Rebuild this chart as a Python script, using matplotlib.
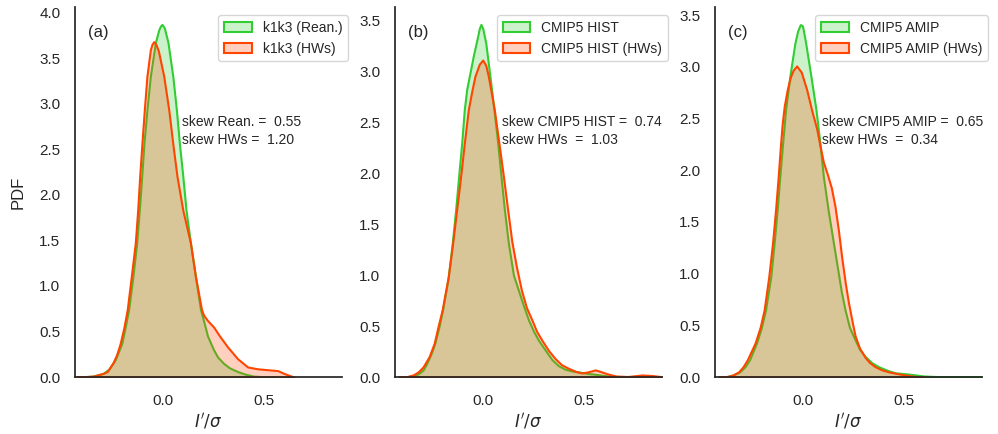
import matplotlib
matplotlib.use("Agg")
import matplotlib.pyplot as plt
import seaborn as sns

# PDF curves (x = I'/sigma, y = density)
a_rean_x = [-0.43, -0.40, -0.35, -0.30, -0.27, -0.24, -0.225, -0.207, -0.19, -0.173, -0.152, -0.133,
            -0.12, -0.108, -0.097, -0.082, -0.065, -0.04, -0.023, -0.015, -0.007, 0.005, 0.023,
            0.047, 0.065, 0.08, 0.097, 0.113, 0.135, 0.16, 0.185, 0.20, 0.22, 0.25, 0.27, 0.30,
            0.33, 0.37, 0.41, 0.45, 0.50, 0.56]
a_rean_y = [0.0, 0.003, 0.01, 0.04, 0.09, 0.19, 0.27, 0.37, 0.55, 0.74, 1.10, 1.47,
            1.83, 2.20, 2.56, 2.93, 3.30, 3.67, 3.81, 3.85, 3.87, 3.83, 3.67,
            3.30, 2.93, 2.56, 2.20, 1.83, 1.47, 1.10, 0.74, 0.62, 0.45, 0.30, 0.22, 0.15,
            0.10, 0.06, 0.03, 0.01, 0.003, 0.0]
a_hw_x = [-0.43, -0.40, -0.35, -0.30, -0.28, -0.25, -0.232, -0.215, -0.197, -0.18, -0.16, -0.14,
          -0.128, -0.118, -0.107, -0.095, -0.082, -0.065, -0.057, -0.048, -0.037, -0.025, 0.002,
          0.027, 0.047, 0.068, 0.097, 0.135, 0.16, 0.19, 0.20, 0.22, 0.25, 0.28, 0.32, 0.37,
          0.42, 0.47, 0.52, 0.57, 0.60, 0.65]
a_hw_y = [0.0, 0.003, 0.01, 0.04, 0.06, 0.16, 0.25, 0.37, 0.54, 0.74, 1.10, 1.47,
          1.83, 2.20, 2.56, 2.93, 3.30, 3.59, 3.65, 3.68, 3.65, 3.58, 3.30,
          2.93, 2.56, 2.20, 1.83, 1.47, 1.10, 0.74, 0.68, 0.62, 0.55, 0.45, 0.33, 0.20,
          0.11, 0.09, 0.08, 0.07, 0.04, 0.0]

b_hist_x = [-0.42, -0.38, -0.35, -0.325, -0.30, -0.283, -0.26, -0.242, -0.22, -0.203, -0.175,
            -0.155, -0.138, -0.123, -0.108, -0.095, -0.083, -0.07, -0.05, -0.033, -0.02, -0.012,
            -0.003, 0.012, 0.033, 0.053, 0.072, 0.088, 0.105, 0.125, 0.15, 0.17, 0.20, 0.225,
            0.25, 0.275, 0.31, 0.342, 0.375, 0.408, 0.44, 0.475, 0.52, 0.558, 0.62, 0.70]
b_hist_y = [0.0, 0.003, 0.01, 0.03, 0.07, 0.13, 0.23, 0.33, 0.50, 0.66, 0.98,
            1.31, 1.64, 1.97, 2.29, 2.62, 2.82, 2.95, 3.15, 3.30, 3.42, 3.46,
            3.42, 3.28, 2.95, 2.62, 2.29, 1.97, 1.64, 1.31, 1.00, 0.88, 0.70, 0.56,
            0.45, 0.36, 0.26, 0.17, 0.11, 0.076, 0.06, 0.05, 0.035, 0.027, 0.01, 0.0]
b_hw_x = [-0.42, -0.38, -0.35, -0.325, -0.30, -0.27, -0.245, -0.225, -0.205, -0.175, -0.153,
          -0.133, -0.113, -0.095, -0.075, -0.058, -0.042, -0.02, -0.003, 0.012, 0.025, 0.055,
          0.078, 0.10, 0.12, 0.142, 0.165, 0.19, 0.215, 0.242, 0.265, 0.292, 0.325, 0.358,
          0.39, 0.425, 0.46, 0.49, 0.52, 0.558, 0.59, 0.62, 0.66, 0.72, 0.79, 0.84, 0.89]
b_hw_y = [0.0, 0.005, 0.02, 0.05, 0.10, 0.20, 0.33, 0.50, 0.66, 0.98, 1.31,
          1.64, 1.97, 2.29, 2.62, 2.80, 2.95, 3.07, 3.11, 3.06, 2.95, 2.62,
          2.29, 1.97, 1.66, 1.33, 1.08, 0.85, 0.68, 0.56, 0.45, 0.36, 0.26, 0.18,
          0.12, 0.085, 0.055, 0.04, 0.05, 0.07, 0.05, 0.03, 0.01, 0.005, 0.02, 0.015, 0.003]

c_amip_x = [-0.42, -0.38, -0.35, -0.317, -0.29, -0.267, -0.233, -0.21, -0.188, -0.162, -0.145,
            -0.13, -0.117, -0.103, -0.088, -0.067, -0.042, -0.028, -0.015, -0.005, 0.0, 0.012,
            0.038, 0.063, 0.083, 0.10, 0.125, 0.15, 0.175, 0.19, 0.208, 0.23, 0.258, 0.28,
            0.308, 0.34, 0.375, 0.40, 0.425, 0.46, 0.49, 0.52, 0.56, 0.60, 0.66, 0.75, 0.89]
c_amip_y = [0.0, 0.005, 0.02, 0.05, 0.10, 0.17, 0.33, 0.47, 0.65, 0.97, 1.30,
            1.62, 1.94, 2.26, 2.59, 2.91, 3.23, 3.35, 3.41, 3.40, 3.36, 3.23,
            2.91, 2.59, 2.26, 1.94, 1.60, 1.30, 1.00, 0.82, 0.65, 0.48, 0.36, 0.27,
            0.20, 0.14, 0.10, 0.08, 0.06, 0.04, 0.035, 0.03, 0.02, 0.01, 0.005, 0.001, 0.0]
c_hw_x = [-0.42, -0.38, -0.35, -0.322, -0.30, -0.278, -0.24, -0.215, -0.195, -0.172, -0.153,
          -0.138, -0.125, -0.113, -0.105, -0.095, -0.08, -0.065, -0.05, -0.033, -0.01, 0.017,
          0.042, 0.067, 0.083, 0.10, 0.12, 0.14, 0.158, 0.175, 0.192, 0.21, 0.225, 0.245,
          0.258, 0.28, 0.308, 0.33, 0.358, 0.39, 0.425, 0.49, 0.56, 0.60]
c_hw_y = [0.0, 0.005, 0.02, 0.05, 0.10, 0.17, 0.33, 0.48, 0.65, 0.97, 1.30,
          1.62, 1.94, 2.26, 2.45, 2.62, 2.78, 2.90, 2.97, 3.01, 2.95, 2.78,
          2.58, 2.40, 2.24, 2.08, 1.96, 1.83, 1.65, 1.42, 1.15, 0.90, 0.72, 0.52,
          0.40, 0.28, 0.19, 0.14, 0.10, 0.07, 0.05, 0.025, 0.005, 0.0]

panels = ["(a)", "(b)", "(c)"]
labels_main = ["k1k3 (Rean.)", "CMIP5 HIST", "CMIP5 AMIP"]
labels_hw = ["k1k3 (HWs)", "CMIP5 HIST (HWs)", "CMIP5 AMIP (HWs)"]
skew_main = ["skew Rean. =  0.55", "skew CMIP5 HIST =  0.74", "skew CMIP5 AMIP =  0.65"]
skew_hw = ["skew HWs =  1.20", "skew HWs  =  1.03", "skew HWs  =  0.34"]
ytop = [4.06, 3.63, 3.58]
yticks = [[0, 0.5, 1, 1.5, 2, 2.5, 3, 3.5, 4], [0, 0.5, 1, 1.5, 2, 2.5, 3, 3.5],
          [0, 0.5, 1, 1.5, 2, 2.5, 3, 3.5]]

curves = [((a_rean_x, a_rean_y), (a_hw_x, a_hw_y)),
          ((b_hist_x, b_hist_y), (b_hw_x, b_hw_y)),
          ((c_amip_x, c_amip_y), (c_hw_x, c_hw_y))]

sns.set_style("white")
sns.set_context("notebook")
plt.rcParams['font.family'] = ['Liberation Sans', 'DejaVu Sans']

fig = plt.figure(figsize=(9.98, 4.34), dpi=100)
lefts = [0.0752, 0.3958, 0.7164]
xpad = plt.rcParams['xtick.major.pad']
ypad = plt.rcParams['ytick.major.pad']

for i in range(3):
    ax = fig.add_axes([lefts[i], 0.1313, 0.2675, 0.8525])
    (mx, my), (hx, hy) = curves[i]
    ax.fill_between(mx, my, 0, facecolor=(50/255, 205/255, 50/255, 0.25),
                    edgecolor='limegreen', linewidth=1.5, label=labels_main[i])
    ax.fill_between(hx, hy, 0, facecolor=(1.0, 69/255, 0, 0.25),
                    edgecolor='orangered', linewidth=1.5, label=labels_hw[i])
    ax.set_xlim(-0.44, 0.89)
    ax.set_ylim(0, ytop[i])
    ax.set_xticks([0.0, 0.5])
    ax.set_yticks(yticks[i])
    ax.tick_params(axis='x', pad=xpad + 3)
    ax.tick_params(axis='y', pad=ypad + 1)
    ax.set_xlabel(r"$I'/\sigma$", labelpad=2)
    if i == 0:
        ax.set_ylabel("PDF", labelpad=10)
    ax.text(0.05, 0.93, panels[i], transform=ax.transAxes, fontsize=12, va='center')
    ax.text(0.40, 0.69, skew_main[i], transform=ax.transAxes, fontsize=10, va='center')
    ax.text(0.40, 0.64, skew_hw[i], transform=ax.transAxes, fontsize=10, va='center')
    ax.legend(loc='upper right', bbox_to_anchor=(1.022, 0.978), borderaxespad=0, fontsize=10)
    sns.despine(ax=ax)

fig.savefig("out.png", dpi=100)
